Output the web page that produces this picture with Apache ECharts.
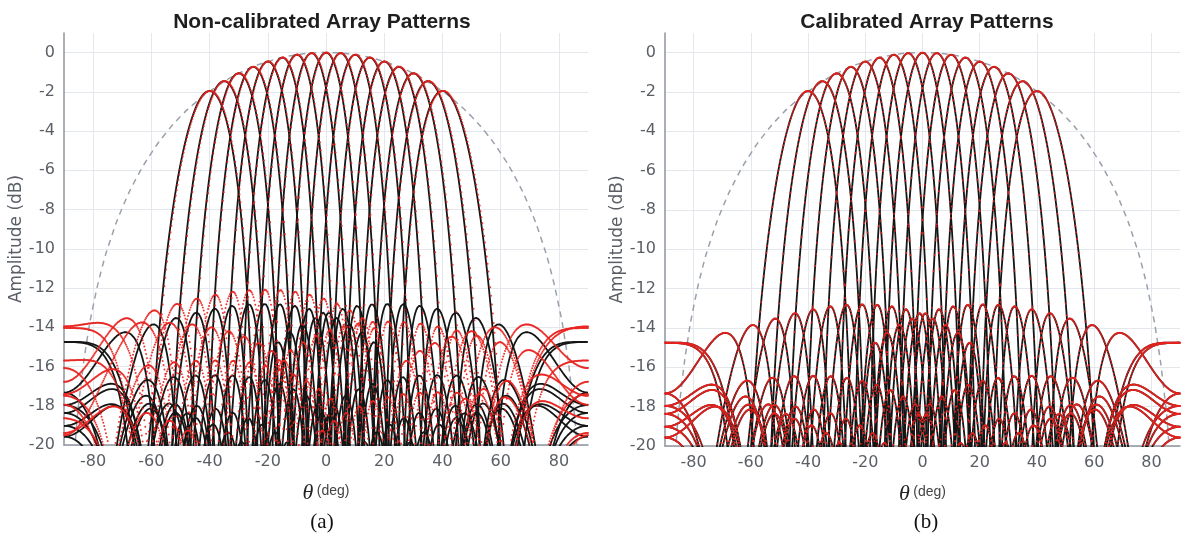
<!DOCTYPE html>
<html>
<head>
<meta charset="utf-8">
<title>Array Patterns</title>
<script src="https://cdn.jsdelivr.net/npm/echarts@6/dist/echarts.min.js"></script>
<style>
  html, body { margin: 0; padding: 0; background: #ffffff; }
  #chart { width: 1183px; height: 538px; }
</style>
</head>
<body>
<div id="chart"></div>
<script>
// Beam pointing directions (deg) and the peak level of each beam (dB)
const beamAngles = [-40, -35, -30, -25, -20, -15, -10, -5, 0, 5, 10, 15, 20, 25, 30, 35, 40];
const beamPeakDb = [-1.95, -1.45, -1.05, -0.72, -0.45, -0.25, -0.1, -0.02, 0, -0.02, -0.1, -0.25, -0.45, -0.72, -1.05, -1.45, -1.95];

// Linear array: 8 elements at half-wavelength spacing
const numElements = 8;
const spacingWl = 0.5;
const idealAmplitude = [1, 1, 1, 1, 1, 1, 1, 1];
const idealPhaseDeg = [0, 0, 0, 0, 0, 0, 0, 0];
// Channel mismatch of the array before calibration
const rawAmplitude = [1.00, 0.96, 1.04, 0.98, 1.03, 0.95, 1.04, 0.97];
const rawPhaseDeg = [0, 7, -5, 9, -8, 3, -9, 5];

// Scan-loss envelope (dashed)
const envelopeAngles = [-88, -86, -84, -82, -80, -77, -74, -70, -65, -60, -55, -50, -45, -40, -30, -20, -10, 0,
                        10, 20, 30, 40, 45, 50, 55, 60, 65, 70, 74, 77, 80, 82, 84, 86, 88];
const envelopeDb = [-24.8, -19.65, -16.7, -14.56, -12.93, -11.0, -9.52, -7.92, -6.36, -5.12, -4.10, -3.26, -2.56, -1.97, -1.06, -0.46, -0.11, 0,
                    -0.11, -0.46, -1.06, -1.97, -2.56, -3.26, -4.10, -5.12, -6.36, -7.92, -9.52, -11.0, -12.93, -14.56, -16.7, -19.65, -24.8];

// Axis tick labels
const xTickLabels = [-80, -60, -40, -20, 0, 20, 40, 60, 80];
const yTickLabels = [0, -2, -4, -6, -8, -10, -12, -14, -16, -18, -20];

const panelTitles = ['Non-calibrated Array Patterns', 'Calibrated Array Patterns'];
const panelTags = ['(a)', '(b)'];

const D2R = Math.PI / 180;

// Array factor of one steered beam, sampled over -90..90 deg, in dB
function beamPattern(theta0, peakDb, amp, phaseDeg, step) {
  const u0 = Math.sin(theta0 * D2R);
  const n = Math.round(180 / step);
  const power = new Array(n + 1);
  let pmax = 0;
  for (let i = 0; i <= n; i++) {
    const u = Math.sin((-90 + i * step) * D2R);
    let re = 0, im = 0;
    for (let k = 0; k < numElements; k++) {
      const ph = 2 * Math.PI * spacingWl * (k - (numElements - 1) / 2) * (u - u0) + phaseDeg[k] * D2R;
      re += amp[k] * Math.cos(ph);
      im += amp[k] * Math.sin(ph);
    }
    power[i] = re * re + im * im;
    if (power[i] > pmax) pmax = power[i];
  }
  return power.map((p, i) => [+(-90 + i * step).toFixed(2),
    Math.max(10 * Math.log10(p / pmax + 1e-12) + peakDb, -60)]);
}

const GRID_LINE = '#e4e7ec';
const AXIS_LINE = '#8e949c';
const LABEL = '#5a5f66';

function panelSeries(idx, measuredAmp, measuredPhase) {
  const series = [];
  series.push({
    type: 'line', xAxisIndex: idx, yAxisIndex: idx, z: 1,
    data: envelopeAngles.map((a, i) => [a, envelopeDb[i]]),
    smooth: true, showSymbol: false, silent: true,
    lineStyle: { color: '#9aa1ac', width: 1.5, type: [6, 5] }
  });
  beamAngles.forEach((a, b) => {
    series.push({
      type: 'line', xAxisIndex: idx, yAxisIndex: idx, z: 2,
      data: beamPattern(a, beamPeakDb[b], idealAmplitude, idealPhaseDeg, 0.1),
      showSymbol: false, silent: true,
      lineStyle: { color: '#151515', width: 1.8 }
    });
  });
  let dots = [];
  beamAngles.forEach((a, b) => {
    dots = dots.concat(beamPattern(a, beamPeakDb[b], measuredAmp, measuredPhase, 0.3)
      .filter(p => p[1] >= -20.5));
  });
  series.push({
    type: 'scatter', xAxisIndex: idx, yAxisIndex: idx, z: 3,
    data: dots, symbolSize: 2, silent: true,
    large: false, progressive: 0,
    itemStyle: { color: '#e8231f', opacity: 0.9 }
  });
  return series;
}

function xAxisFor(idx) {
  return {
    gridIndex: idx, type: 'value', min: -90, max: 90, interval: 10,
    axisLine: { show: true, onZero: false, lineStyle: { color: AXIS_LINE, width: 1.5 } },
    axisTick: { show: false },
    axisLabel: {
      formatter: v => (xTickLabels.includes(v) ? String(v) : ''),
      color: LABEL, fontSize: 16, fontFamily: 'DejaVu Sans', margin: 9
    },
    splitLine: { show: true, lineStyle: { color: ['rgba(0,0,0,0)', GRID_LINE], width: 1 } },
    name: '{t|θ} {u|(deg)}', nameLocation: 'middle', nameGap: 37,
    nameTextStyle: {
      rich: {
        t: { fontFamily: 'Liberation Serif', fontStyle: 'italic', fontSize: 22, color: '#222' },
        u: { fontFamily: 'Liberation Sans', fontSize: 14, color: '#444', padding: [0, 0, 4, 0] }
      }
    }
  };
}

function yAxisFor(idx) {
  return {
    gridIndex: idx, type: 'value', min: -20, max: 1, interval: 1,
    axisLine: { show: true, onZero: false, lineStyle: { color: AXIS_LINE, width: 1.5 } },
    axisTick: { show: false },
    axisLabel: {
      formatter: v => (yTickLabels.includes(v) ? String(v) : ''),
      color: LABEL, fontSize: 16, fontFamily: 'DejaVu Sans', margin: 9
    },
    splitLine: { show: true, lineStyle: { color: [GRID_LINE, 'rgba(0,0,0,0)'], width: 1 } },
    name: 'Amplitude (dB)', nameLocation: 'middle', nameGap: 34, nameRotate: 90,
    nameTextStyle: { color: LABEL, fontSize: 17, fontFamily: 'DejaVu Sans' }
  };
}

const chart = echarts.init(document.getElementById('chart'), null, { renderer: 'canvas' });
chart.setOption({
  animation: false,
  backgroundColor: '#ffffff',
  grid: [
    { left: 64, top: 33, width: 524, height: 412 },
    { left: 665, top: 33, width: 526, height: 413 }
  ],
  xAxis: [xAxisFor(0), xAxisFor(1)],
  yAxis: [yAxisFor(0), yAxisFor(1)],
  graphic: [
    { type: 'text', x: 322, y: 22, style: { text: panelTitles[0], fill: '#1e1e1e', font: 'bold 21px "Liberation Sans"', align: 'center', verticalAlign: 'middle' } },
    { type: 'text', x: 927, y: 22, style: { text: panelTitles[1], fill: '#1e1e1e', font: 'bold 21px "Liberation Sans"', align: 'center', verticalAlign: 'middle' } },
    { type: 'text', x: 322, y: 522, style: { text: panelTags[0], fill: '#111', font: '21px "Liberation Serif"', align: 'center', verticalAlign: 'middle' } },
    { type: 'text', x: 926, y: 522, style: { text: panelTags[1], fill: '#111', font: '21px "Liberation Serif"', align: 'center', verticalAlign: 'middle' } }
  ],
  series: panelSeries(0, rawAmplitude, rawPhaseDeg).concat(panelSeries(1, idealAmplitude, idealPhaseDeg))
});
</script>
</body>
</html>
